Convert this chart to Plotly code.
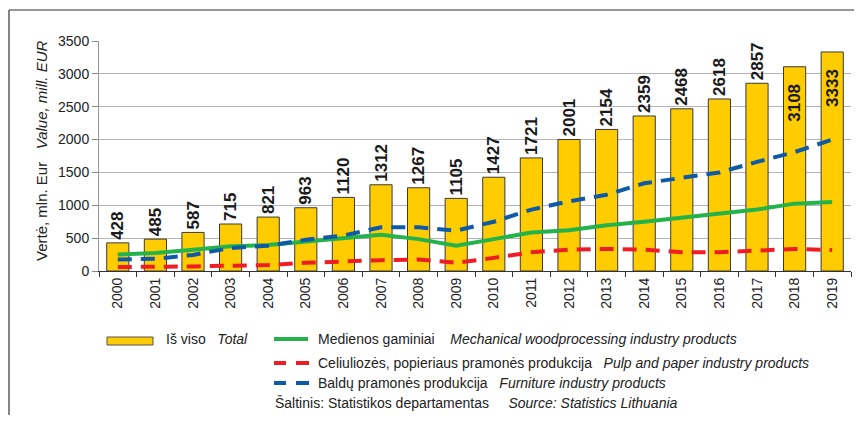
import plotly.graph_objects as go

years = [str(y) for y in range(2000, 2020)]
total = [428, 485, 587, 715, 821, 963, 1120, 1312, 1267, 1105,
         1427, 1721, 2001, 2154, 2359, 2468, 2618, 2857, 3108, 3333]
mechanical = [250, 275, 325, 375, 395, 450, 500, 550, 485, 385,
              485, 585, 620, 695, 750, 810, 870, 935, 1025, 1050]
pulp = [60, 60, 70, 80, 90, 125, 150, 165, 175, 125,
        200, 285, 325, 335, 325, 285, 285, 310, 335, 320]
furniture = [175, 185, 245, 350, 385, 475, 540, 665, 665, 615,
             750, 935, 1060, 1160, 1335, 1410, 1500, 1660, 1810, 2000]
y_ticks = [0, 500, 1000, 1500, 2000, 2500, 3000, 3500]

FONT = "Liberation Sans, Arial, sans-serif"
GOLD = "#FFCC00"
GREEN = "#24B34B"
RED = "#EE1D25"
BLUE = "#0E5AA7"
SP = "\u00a0\u00a0\u00a0"
SP5 = "\u00a0" * 5

# the page body has an 8px margin; the figure is sized to fit inside it
OFF = 8
W, H = 862 - 2 * OFF, 423 - 2 * OFF
# plot area in window pixels: x 99..851, y 41..271
L = 99 - OFF
T = 41 - OFF
R = W - (851 - OFF)
B = H - (271 - OFF)
PW, PH = W - L - R, H - T - B


def px(sx):
    return (sx - OFF - L) / PW


def py(sy):
    return 1 - (sy - OFF - T) / PH


n = len(total)
fig = go.Figure()
fig.add_trace(go.Bar(
    x=years, y=total, marker=dict(color=GOLD, line=dict(color="#3a3a3a", width=1)),
    text=[str(v) for v in total[:n - 2]] + [str(v) + SP for v in total[n - 2:]],
    textposition=["outside"] * (n - 2) + ["inside"] * 2,
    insidetextanchor="end",
    textangle=-90,
    textfont=dict(family=FONT, size=17, color="#1a1a1a", weight="bold"),
    constraintext="none", cliponaxis=False, showlegend=False,
))
fig.add_trace(go.Scatter(x=years, y=mechanical, mode="lines",
                         line=dict(color=GREEN, width=4), showlegend=False))
fig.add_trace(go.Scatter(x=years, y=pulp, mode="lines",
                         line=dict(color=RED, width=4, dash="14px,9px"), showlegend=False))
fig.add_trace(go.Scatter(x=years, y=furniture, mode="lines",
                         line=dict(color=BLUE, width=4, dash="14px,9px"), showlegend=False))

fig.update_layout(
    width=W, height=H, margin=dict(l=L, r=R, t=T, b=B, autoexpand=False),
    paper_bgcolor="white", plot_bgcolor="white",
    bargap=0.41,
    font=dict(family=FONT, size=14, color="#222"),
    uniformtext=dict(minsize=17, mode="show"),
    xaxis=dict(type="category", tickangle=-90, ticks="outside", tickson="boundaries",
               ticklen=5, tickcolor="#333", showline=True, linecolor="#333", linewidth=1,
               tickfont=dict(size=14, color="#222"), showgrid=False),
    yaxis=dict(range=[0, 3500], tickvals=y_ticks, ticks="outside", ticklen=6,
               tickcolor="#888", showline=True, linecolor="#999", linewidth=1,
               gridcolor="#b4b4b4", gridwidth=1, tickfont=dict(size=14, color="#222"),
               zeroline=False),
)

# outer frame (top and left edges)
fig.add_shape(type="line", xref="paper", yref="paper", x0=px(9), x1=px(875),
              y0=py(10), y1=py(10), line=dict(color="#333", width=1.2))
fig.add_shape(type="line", xref="paper", yref="paper", x0=px(9), x1=px(9),
              y0=py(10), y1=py(440), line=dict(color="#333", width=1.2))

# y-axis title
fig.add_annotation(xref="paper", yref="paper", x=px(41), y=py(151), showarrow=False,
                   textangle=-90, text="Vertė, mln. Eur" + SP + "<i>Value, mill. EUR</i>",
                   font=dict(size=15, color="#222"), xanchor="center", yanchor="middle")

# legend
LF = dict(size=14, color="#222")
fig.add_shape(type="rect", xref="paper", yref="paper", x0=px(107), x1=px(153),
              y0=py(337), y1=py(345), fillcolor=GOLD, line=dict(color="#555", width=1))
fig.add_annotation(xref="paper", yref="paper", x=px(164), y=py(339), showarrow=False,
                   xanchor="left", yanchor="middle", font=LF,
                   text="Iš viso" + SP + "<i>Total</i>")
legend_rows = [
    (339, GREEN, None, "Medienos gaminiai" + SP + "\u00a0<i>Mechanical woodprocessing industry products</i>"),
    (363, RED, "dash", "Celiuliozės, popieriaus pramonės produkcija" + SP + "<i>Pulp and paper industry products</i>"),
    (383, BLUE, "dash", "Baldų pramonės produkcija" + SP + "<i>Furniture industry products</i>"),
]
for yy, col, dash, txt in legend_rows:
    if dash:
        fig.add_shape(type="line", xref="paper", yref="paper", x0=px(274), x1=px(286),
                      y0=py(yy), y1=py(yy), line=dict(color=col, width=4))
        fig.add_shape(type="line", xref="paper", yref="paper", x0=px(296), x1=px(309),
                      y0=py(yy), y1=py(yy), line=dict(color=col, width=4))
    else:
        fig.add_shape(type="line", xref="paper", yref="paper", x0=px(274), x1=px(308),
                      y0=py(yy), y1=py(yy), line=dict(color=col, width=4))
    fig.add_annotation(xref="paper", yref="paper", x=px(316), y=py(yy), showarrow=False,
                       xanchor="left", yanchor="middle", font=LF, text=txt)
fig.add_annotation(xref="paper", yref="paper", x=px(273), y=py(403), showarrow=False,
                   xanchor="left", yanchor="middle", font=LF,
                   text="Šaltinis: Statistikos departamentas" + SP5 + "<i>Source: Statistics Lithuania</i>")

fig.write_html("out.html")
